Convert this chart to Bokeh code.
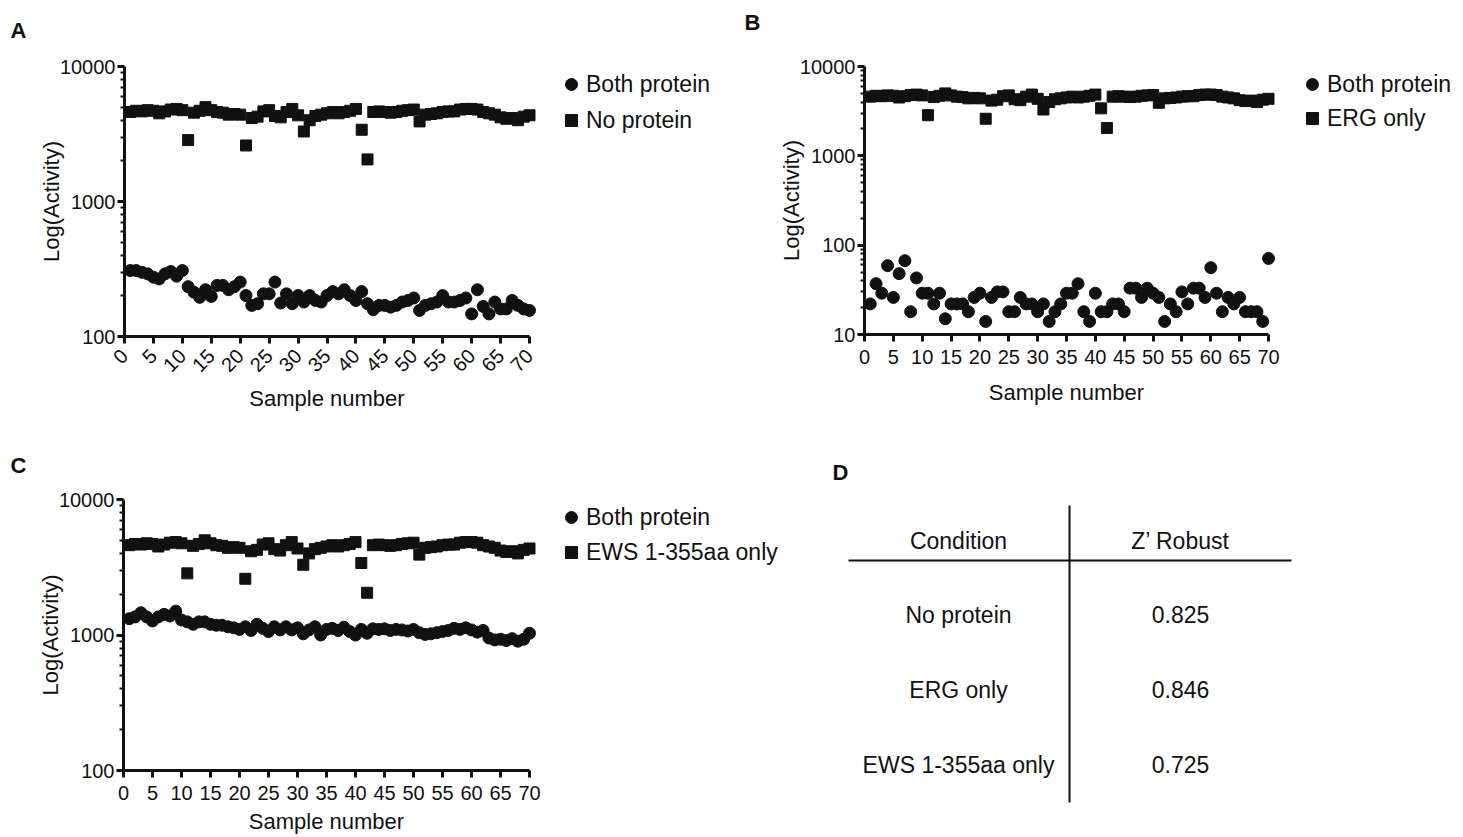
import math
from bokeh.plotting import figure
from bokeh.layouts import column, row
from bokeh.models import (Range1d, FixedTicker, BasicTickFormatter, Legend,
                          LegendItem, Label)
from bokeh.embed import file_html
from bokeh.resources import INLINE
from bokeh.core.properties import value

FONT = "Liberation Sans"
INK = "#111111"

# ---------------- data ----------------
samples = list(range(1, 71))

# positive-control squares (same in the three panels)
no_protein = [4600, 4700, 4650, 4750, 4700, 4500, 4650, 4800, 4850, 4750,
              2850, 4550, 4700, 5000, 4750, 4600, 4550, 4400, 4450, 4400,
              2600, 4150, 4250, 4650, 4750, 4300, 4200, 4600, 4850, 4350,
              3300, 4000, 4300, 4400, 4500, 4600, 4500, 4600, 4700, 4850,
              3400, 2050, 4600, 4650, 4600, 4550, 4600, 4700, 4750, 4800,
              3920, 4400, 4450, 4500, 4600, 4650, 4650, 4800, 4850, 4850,
              4800, 4600, 4500, 4400, 4200, 4100, 4150, 4000, 4250, 4350]

both_A = [308, 308, 299, 291, 275, 267, 291, 303, 280, 308,
          234, 213, 195, 222, 198, 239, 239, 222, 234, 253,
          201, 170, 175, 207, 207, 253, 177, 207, 175, 201,
          180, 201, 185, 180, 201, 215, 207, 222, 201, 185,
          215, 175, 158, 170, 170, 165, 170, 180, 185, 193,
          156, 170, 175, 180, 201, 180, 180, 185, 193, 147,
          222, 167, 147, 180, 160, 160, 185, 170, 160, 156]

both_B = [22, 37, 29, 59, 26, 48, 67, 18, 43, 29,
          29, 22, 29, 15, 22, 22, 22, 18, 26, 29,
          14, 26, 30, 30, 18, 18, 26, 22, 22, 18,
          22, 14, 18, 22, 29, 29, 37, 18, 14, 29,
          18, 18, 22, 22, 18, 33, 33, 26, 33, 29,
          26, 14, 22, 18, 30, 22, 33, 33, 26, 56,
          29, 18, 26, 22, 26, 18, 18, 18, 14, 71]

both_C = [1320, 1360, 1460, 1360, 1270, 1360, 1420, 1380, 1500, 1290,
          1250, 1200, 1250, 1250, 1200, 1180, 1180, 1150, 1130, 1100,
          1150, 1080, 1200, 1120, 1060, 1150, 1090, 1150, 1090, 1130,
          1020, 1090, 1150, 1000, 1100, 1120, 1080, 1140, 1060, 1000,
          1100, 1030, 1110, 1100, 1110, 1080, 1100, 1090, 1070, 1100,
          1040, 1010, 1020, 1040, 1060, 1080, 1120, 1100, 1130, 1090,
          1050, 1080, 950, 920, 930, 910, 940, 900, 930, 1030]

legend_A = ["Both protein", "No protein"]
legend_B = ["Both protein", "ERG only"]
legend_C = ["Both protein", "EWS 1-355aa only"]

x_ticks = list(range(0, 71, 5))
y_major_A = [100, 1000, 10000]
y_major_B = [10, 100, 1000, 10000]
y_major_C = [100, 1000, 10000]

table_header = ["Condition", "Z\u2019 Robust"]
table_conditions = ["No protein", "ERG only", "EWS 1-355aa only"]
table_z = [0.825, 0.846, 0.725]

x_label = "Sample number"
y_label = "Log(Activity)"


def minors(majors):
    out = []
    for d in majors[:-1]:
        out += [d * m for m in range(2, 10)]
    return out


def panel(W, H, x0_px, x70_px, ytop_px, ybot_px, majors, circles, squares,
          labels, letter, letter_px, leg_top_left, leg_spacing, rotate,
          tick_standoff, lab_standoff):
    """All *_px are canvas pixel positions (from the canvas top-left)."""
    ppu = (x70_px - x0_px) / 70.0
    lo, hi = math.log10(majors[0]), math.log10(majors[-1])
    ppd = (ybot_px - ytop_px) / (hi - lo)
    x_rng = Range1d(-x0_px / ppu, (W - x0_px) / ppu)
    y_rng = Range1d(10 ** (lo - (H - ybot_px) / ppd), 10 ** (hi + ytop_px / ppd))
    p = figure(width=W, height=H, x_range=x_rng, y_range=y_rng,
               y_axis_type="log", output_backend="svg",
               toolbar_location=None, min_border=0,
               min_border_left=0, min_border_right=0,
               min_border_top=0, min_border_bottom=0)
    p.outline_line_color = None
    p.xgrid.visible = False
    p.ygrid.visible = False

    for ax in (p.xaxis[0], p.yaxis[0]):
        ax.axis_line_width = 3
        ax.axis_line_color = INK
        ax.major_tick_line_width = 3
        ax.major_tick_line_color = INK
        ax.major_tick_in = 0
        ax.major_tick_out = 7
        ax.minor_tick_line_width = 2
        ax.minor_tick_line_color = INK
        ax.minor_tick_in = 0
        ax.minor_tick_out = 4
        ax.major_label_text_font = FONT
        ax.major_label_text_font_size = "20px"
        ax.major_label_text_color = INK
        ax.axis_label_text_font = FONT
        ax.axis_label_text_font_size = "22px"
        ax.axis_label_text_font_style = "normal"
        ax.axis_label_text_color = INK

    p.xaxis.ticker = FixedTicker(ticks=x_ticks, minor_ticks=[])
    p.xaxis.bounds = (0, 70)
    p.xaxis.fixed_location = majors[0]
    p.xaxis.axis_label = x_label
    p.xaxis.major_label_standoff = tick_standoff
    p.xaxis.axis_label_standoff = lab_standoff
    if rotate:
        p.xaxis.major_label_orientation = math.pi / 4

    p.yaxis.ticker = FixedTicker(ticks=majors, minor_ticks=minors(majors))
    p.yaxis.formatter = BasicTickFormatter(use_scientific=False)
    p.yaxis.bounds = (majors[0], majors[-1])
    p.yaxis.fixed_location = 0
    p.yaxis.axis_label = y_label
    p.yaxis.major_label_standoff = 2
    p.yaxis.axis_label_standoff = -7

    r_sq = p.scatter(samples, squares, marker="square", size=11,
                     fill_color=INK, line_color=INK)
    r_ci = p.scatter(samples, circles, marker="circle", size=12,
                     fill_color=INK, line_color=INK)

    item_h = 30
    leg_h = 2 * item_h + leg_spacing
    leg = Legend(items=[LegendItem(label=labels[0], renderers=[r_ci]),
                        LegendItem(label=labels[1], renderers=[r_sq])],
                 location=(leg_top_left[0], H - leg_top_left[1] - leg_h),
                 border_line_color=None,
                 background_fill_alpha=0, padding=0, margin=0,
                 spacing=leg_spacing, glyph_width=30, glyph_height=item_h,
                 label_height=item_h, label_standoff=0,
                 label_text_font=FONT, label_text_font_size="23px",
                 label_text_color=INK)
    p.add_layout(leg)

    # panel letter: canvas position -> data coordinates
    lx = (letter_px[0] - x0_px) / ppu
    ly = 10 ** (hi - (letter_px[1] - ytop_px) / ppd)
    p.add_layout(Label(x=lx, y=ly, text=letter, text_font=FONT,
                       text_font_size="22px", text_font_style="bold",
                       text_color=INK, text_align="center",
                       text_baseline="middle"))
    return p


# top row: canvases at page y 0 (B starts at page x 740)
pA = panel(740, 420, 124, 529, 66, 336, y_major_A, both_A, no_protein,
           legend_A, "A", (18, 30), (556, 69), 6, True, 9, 5)
pB = panel(720, 420, 124, 528, 66, 334, y_major_B, both_B, no_protein,
           legend_B, "B", (12, 22), (557, 69), 4, False, 8, 13)
# bottom row: canvases at page y 420
pC = panel(790, 415, 123, 529, 79, 350, y_major_C, both_C, no_protein,
           legend_C, "C", (18, 45), (556, 82), 5, False, 8, 6)

# ---------------- table D ----------------
DX0, DY0, D_W, D_H = 790, 420, 670, 415
pD = figure(width=D_W, height=D_H,
            x_range=Range1d(DX0, DX0 + D_W), y_range=Range1d(DY0 + D_H, DY0),
            output_backend="svg", toolbar_location=None, min_border=0,
            min_border_left=0, min_border_right=0,
            min_border_top=0, min_border_bottom=0,
            x_axis_location=None, y_axis_location=None)
pD.outline_line_color = None
pD.grid.visible = False

pD.segment(x0=[1069, 848], y0=[505, 560], x1=[1069, 1291], y1=[802, 560],
           line_width=2, line_color=INK)

col_x = [958, 1180]
tx, ty, tt = [], [], []
for i, h in enumerate(table_header):
    tx.append(col_x[i]); ty.append(540); tt.append(h)
for i, (c, z) in enumerate(zip(table_conditions, table_z)):
    tx += col_x
    ty += [614 + 75 * i] * 2
    tt += [c, "%.3f" % z]
pD.text(x=tx, y=ty, text=tt, text_font=value(FONT), text_font_size="23px",
        text_align="center", text_baseline="middle", text_color=INK)
pD.text(x=[840], y=[472], text=["D"], text_font=value(FONT),
        text_font_size="22px", text_font_style="bold", text_align="center",
        text_baseline="middle", text_color=INK)

layout = column(row(pA, pB), row(pC, pD))
open("out.html", "w").write(file_html(layout, INLINE))
